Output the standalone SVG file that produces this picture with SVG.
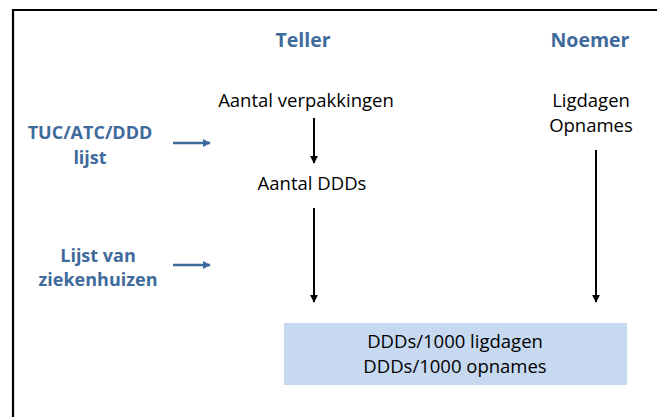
<svg xmlns="http://www.w3.org/2000/svg" width="657" height="417" viewBox="0 0 657 417">
<defs>
<style>
.t{font-family:"Open Sans","Liberation Sans",sans-serif;font-size:18.5px;fill:#000;text-anchor:middle}
.h{font-family:"Open Sans","Liberation Sans",sans-serif;font-size:19.5px;font-weight:bold;fill:#3F6A9C;text-anchor:middle}
.b{font-family:"Open Sans","Liberation Sans",sans-serif;font-size:18px;font-weight:bold;fill:#3F6A9C;text-anchor:middle}
.ka{stroke:#000;stroke-width:2;fill:none}
.ba{stroke:#3F6A9C;stroke-width:2.5;fill:none}
</style>
<marker id="mk" viewBox="0 0 10 10" refX="9" refY="5" markerWidth="4" markerHeight="4" orient="auto" markerUnits="strokeWidth"><path d="M0,0L10,5L0,10z" fill="#000"/></marker>
<marker id="mb" viewBox="0 0 10 10" refX="9" refY="5" markerWidth="3.2" markerHeight="3.2" orient="auto" markerUnits="strokeWidth"><path d="M0,0L10,5L0,10z" fill="#3F6A9C"/></marker>
</defs>
<rect width="657" height="417" fill="#fff"/>
<path d="M13,417V10H657" stroke="#000" stroke-width="2.2" fill="none"/>
<g id="teller"><text class="h" x="303" y="47">Teller</text></g>
<g id="noemer"><text class="h" x="590" y="47">Noemer</text></g>
<g id="verpakkingen"><text class="t" x="306" y="107">Aantal verpakkingen</text></g>
<g id="ligdagen"><text class="t" x="591" y="107">Ligdagen</text><text class="t" x="591" y="132">Opnames</text></g>
<g id="tuc"><text class="b" x="90" y="139">TUC/ATC/DDD</text><text class="b" x="90" y="164">lijst</text></g>
<g id="ddds"><text class="t" x="312" y="190">Aantal DDDs</text></g>
<g id="zieken"><text class="b" x="98" y="262">Lijst van</text><text class="b" x="98" y="286">ziekenhuizen</text></g>
<g id="result"><rect x="284" y="323" width="343" height="62" fill="#C6D9F0"/><text class="t" x="455" y="348">DDDs/1000 ligdagen</text><text class="t" x="455" y="373">DDDs/1000 opnames</text></g>
<g id="connectors">
<line class="ka" x1="314" y1="118" x2="314" y2="163" marker-end="url(#mk)"/>
<line class="ka" x1="314" y1="208" x2="314" y2="302" marker-end="url(#mk)"/>
<line class="ka" x1="596" y1="150" x2="596" y2="302" marker-end="url(#mk)"/>
<line class="ba" x1="173" y1="143" x2="210" y2="143" marker-end="url(#mb)"/>
<line class="ba" x1="173" y1="265" x2="210" y2="265" marker-end="url(#mb)"/>
</g>
</svg>
